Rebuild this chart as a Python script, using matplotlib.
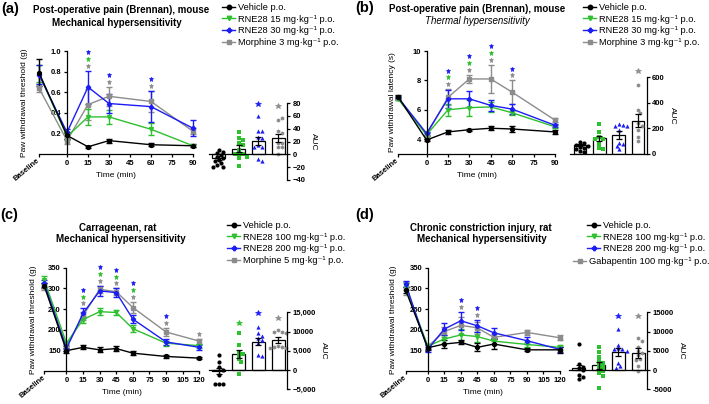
import matplotlib
matplotlib.use('Agg')
import matplotlib.pyplot as plt
from matplotlib.lines import Line2D
from matplotlib.transforms import ScaledTranslation

plt.rcParams['font.family'] = ['Liberation Sans', 'DejaVu Sans']
plt.rcParams['font.weight'] = 'bold'

W, H = 709, 404
BASE_X = -20          # where "Baseline" sits on the time axis

BLACK, GREEN, BLUE, GRAY = '#000000', '#2ec02e', '#1c1cf5', '#8c8c8c'

# ---------------- (a) post-op mechanical, mouse ----------------
a_times = [0, 15, 30, 60, 90]
a_veh = [0.79, 0.18, 0.07, 0.13, 0.09, 0.08]
a_veh_err = [0.13, 0.03, 0.01, 0.02, 0.015, 0.015]
a_low = [0.78, 0.17, 0.36, 0.36, 0.24, 0.08]
a_low_err = [0.08, 0.03, 0.08, 0.07, 0.06, 0.01]
a_high = [0.77, 0.21, 0.65, 0.49, 0.46, 0.25]
a_high_err = [0.09, 0.03, 0.16, 0.09, 0.15, 0.08]
a_ref = [0.64, 0.13, 0.48, 0.56, 0.51, 0.22]
a_ref_err = [0.04, 0.03, 0.15, 0.09, 0.10, 0.03]
a_sig_ref = [15, 30, 60]
a_sig_low = [15]
a_sig_high = [15, 30, 60]
a_labels = ['Vehicle p.o.', 'RNE28 15 mg·kg⁻¹ p.o.', 'RNE28 30 mg·kg⁻¹ p.o.',
            'Morphine 3 mg·kg⁻¹ p.o.']
a_auc_veh = [7, 4, 2, -1, -4, -6, -9, -11, -14, -17, -19, -20]
a_auc_low = [35, 26, 22, 18, 14, 7, 1, 0, 0, -4, -6, -18]
a_auc_high = [59, 37, 36, 27, 26, 15, 12, 12, -8, -10]
a_auc_ref = [53, 56, 36, 33, 18, 18, 11, 11, 0]
a_auc_mean = [-6, 9, 21, 26]
a_auc_sem = [3, 6, 6, 6]
a_auc_star = [None, None, 79, 75]

# ---------------- (b) post-op thermal, mouse ----------------
b_times = [0, 15, 30, 45, 60, 90]
b_veh = [6.9, 3.95, 4.5, 4.65, 4.75, 4.7, 4.5]
b_veh_err = [0.1, 0.1, 0.15, 0.08, 0.15, 0.18, 0.12]
b_low = [6.75, 4.3, 6.0, 6.15, 6.2, 5.8, 4.85]
b_low_err = [0.1, 0.1, 0.4, 0.55, 0.35, 0.15, 0.1]
b_high = [6.85, 4.4, 6.75, 6.75, 6.3, 6.05, 4.95]
b_high_err = [0.1, 0.1, 0.6, 0.55, 0.35, 0.35, 0.1]
b_ref = [6.8, 4.3, 6.85, 8.1, 8.1, 7.2, 5.3]
b_ref_err = [0.1, 0.1, 0.55, 0.3, 0.95, 0.8, 0.15]
b_sig_ref = [15, 30, 45, 60]
b_sig_low = [15, 30, 45]
b_sig_high = [15, 30, 45, 60]
b_labels = a_labels
b_auc_veh = [90, 82, 72, 65, 58, 50, 40, 25, 12]
b_auc_low = [232, 175, 135, 120, 115, 78, 45, 42]
b_auc_high = [232, 225, 220, 215, 190, 85, 80, 60, 38]
b_auc_ref = [540, 345, 320, 240, 220, 190, 130, 100]
b_auc_mean = [70, 122, 148, 258]
b_auc_sem = [10, 20, 30, 50]
b_auc_star = [None, None, None, 645]

# ---------------- (c) carrageenan, rat ----------------
c_times = [0, 15, 30, 45, 60, 90, 120]
c_veh = [306, 150, 158, 152, 155, 144, 136, 132]
c_veh_err = [6, 6, 5, 6, 7, 5, 4, 3]
c_low = [320, 168, 225, 244, 242, 203, 168, 162]
c_low_err = [10, 5, 8, 8, 6, 8, 6, 5]
c_high = [312, 155, 240, 294, 290, 226, 171, 158]
c_high_err = [8, 6, 12, 12, 10, 10, 8, 6]
c_ref = [305, 160, 234, 298, 292, 254, 195, 173]
c_ref_err = [8, 6, 10, 8, 8, 14, 10, 6]
c_sig_ref = [15, 30, 45, 60, 90, 120]
c_sig_low = [15, 30, 45, 60]
c_sig_high = [15, 30, 45, 60, 90]
c_labels = ['Vehicle p.o.', 'RNE28 100 mg·kg⁻¹ p.o.', 'RNE28 200 mg·kg⁻¹ p.o.',
            'Morphine 5 mg·kg⁻¹ p.o.']
c_auc_veh = [3900, 2200, 700, 0, -1300, -3600, -3600, -3700]
c_auc_low = [9700, 6500, 4800, 4100, 3900, 3000, 2200, -900]
c_auc_high = [11200, 9500, 8900, 8400, 7800, 7000, 3900, 3600]
c_auc_ref = [10300, 10000, 9800, 9500, 6200, 6000, 6000, 5800, 5600]
c_auc_mean = [-200, 4100, 7400, 7700]
c_auc_sem = [800, 1000, 900, 800]
c_auc_star = [None, 12100, 14700, 13600]

# ---------------- (d) CCI, rat ----------------
d_times = c_times
d_veh = [296, 157, 166, 170, 158, 166, 152, 152]
d_veh_err = [8, 6, 10, 5, 10, 12, 4, 8]
d_low = [304, 161, 178, 188, 184, 173, 165, 158]
d_low_err = [8, 6, 10, 15, 12, 8, 6, 6]
d_high = [311, 153, 202, 222, 210, 193, 174, 153]
d_high_err = [8, 6, 14, 22, 14, 12, 8, 6]
d_ref = [300, 160, 196, 211, 205, 182, 194, 181]
d_ref_err = [15, 6, 12, 20, 15, 8, 6, 6]
d_sig_ref = [30, 45]
d_sig_low = []
d_sig_high = [30, 45]
d_labels = ['Vehicle p.o.', 'RNE28 100 mg·kg⁻¹ p.o.', 'RNE28 200 mg·kg⁻¹ p.o.',
            'Gabapentin 100 mg·kg⁻¹ p.o.']
d_auc_veh = [6700, 1500, 900, 500, 0, -1300, -1700, -2300]
d_auc_low = [6000, 4800, 3500, 2500, 1800, 1200, 800, 300, -200, -800, -1500, -4600]
d_auc_high = [10700, 6600, 5700, 5400, 5400, 5000, 1900, 1050, 600]
d_auc_ref = [8200, 7500, 6000, 5000, 4500, 3800, 3000, 2500, 1000, -200]
d_auc_mean = [600, 1200, 4600, 4400]
d_auc_sem = [700, 900, 1000, 1300]
d_auc_star = [None, None, 14000, 14000]

LINE_MARKERS = ['o', 'v', 'P', 's']
AUC_MARKERS = ['o', 's', '^', 'h']
COLORS = [BLACK, GREEN, BLUE, GRAY]

fig = plt.figure(figsize=(W / 100, H / 100), dpi=100)


def px_rect(left, top, right, bottom):
    return [left / W, 1 - bottom / H, (right - left) / W, (bottom - top) / H]


def line_panel(rect, times, means, errs, sigs, ylim, yticks, ytlabels,
               ylabel, ylabel_x):
    ax = fig.add_axes(rect)
    x = [BASE_X] + times
    # draw reference first, vehicle last (on top)
    for i in [3, 1, 2, 0]:
        eb = ax.errorbar(x, means[i], yerr=errs[i], color=COLORS[i],
                         marker=LINE_MARKERS[i], ms=2.8, lw=1.0,
                         elinewidth=1.0, capsize=2.0, capthick=1.0)
        eb.lines[0].set_clip_on(False)
        for art in list(eb.lines[1]) + list(eb.lines[2]):
            art.set_clip_on(False)
    ax.set_xlim(BASE_X, times[-1])
    ax.set_ylim(*ylim)
    ax.spines['top'].set_visible(False)
    ax.spines['right'].set_visible(False)
    ax.spines['left'].set_position(('data', 0))
    ax.spines['left'].set_linewidth(0.9)
    ax.spines['bottom'].set_linewidth(0.9)
    xt = [BASE_X] + list(range(0, times[-1] + 1, 15))
    ax.set_xticks(xt, ['Baseline'] + [str(t) for t in xt[1:]])
    ax.set_yticks(yticks, ytlabels)
    ax.tick_params(length=2.5, width=0.9, pad=1.5, labelsize=5.5)
    bl = ax.get_xticklabels()[0]
    bl.set_rotation(40)
    bl.set_rotation_mode('anchor')
    bl.set_ha('right')
    bl.set_va('center')
    ax.set_xlabel('Time (min)', fontsize=6)
    ax.xaxis.set_label_coords(0.5, -0.17)
    ax.set_ylabel(ylabel, fontsize=6)
    ax.yaxis.set_label_coords(ylabel_x, 0.5)

    # significance stars stacked above the highest error bar: gray, green, blue
    for t in times:
        k = x.index(t)
        top = max(m[k] + e[k] for m, e in zip(means, errs))
        n = 0
        for gi in [3, 1, 2]:
            if t in sigs[gi]:
                off = ScaledTranslation(0, (5 + 6.8 * n) / 100, fig.dpi_scale_trans)
                ax.plot(t, top, marker='*', ms=3.6, mew=0.5, color=COLORS[gi],
                        ls='none', transform=ax.transData + off, clip_on=False)
                n += 1
    return ax


def swarm_x(ax, xc, vals, d_px=3.4):
    to_px = ax.transData.transform
    x_per_px = 1.0 / (to_px((1, 0))[0] - to_px((0, 0))[0])
    cands = [0]
    for k in range(1, 12):
        cands += [k, -k]
    placed, out = [], []
    for v in vals:
        yp = to_px((xc, v))[1]
        for s in cands:
            dx = s * d_px * 0.6
            if all((dx - a) ** 2 + (yp - b) ** 2 >= d_px ** 2 for a, b in placed):
                break
        placed.append((dx, yp))
        out.append(xc + dx * x_per_px)
    return out


def auc_panel(rect, groups, mean, sem, stars, ylim, yticks, ytlabels, label_pad):
    ax = fig.add_axes(rect)
    ax.set_xlim(-0.5, 3.45)
    ax.set_ylim(*ylim)
    ax.bar(range(4), mean, width=0.66, color='white', edgecolor='black',
           linewidth=0.9, zorder=1)
    for i, vals in enumerate(groups):
        xs = swarm_x(ax, i, vals)
        ax.plot(xs, vals, ls='none', marker=AUC_MARKERS[i], ms=3.0, mew=0,
                color=COLORS[i], zorder=2, clip_on=False)
        if stars[i] is not None:
            ax.plot(i, stars[i], marker='*', ms=3.8, mew=0.5, color=COLORS[i],
                    zorder=2, clip_on=False)
    ax.errorbar(range(4), mean, yerr=sem, fmt='none', ecolor='black',
                elinewidth=0.9, capsize=2.0, capthick=0.9, zorder=3)
    for s in ['left', 'top']:
        ax.spines[s].set_visible(False)
    ax.spines['bottom'].set_position(('data', 0))
    ax.spines['bottom'].set_linewidth(0.9)
    ax.spines['right'].set_linewidth(0.9)
    ax.set_xticks([])
    ax.yaxis.tick_right()
    ax.set_yticks(yticks, ytlabels)
    ax.tick_params(axis='y', length=2.5, width=0.9, pad=1.5, labelsize=5.5)
    ax.yaxis.set_label_position('right')
    ax.set_ylabel('AUC', fontsize=6, rotation=270, labelpad=label_pad)
    return ax


def legend(handles_idx, labels, left_px, top_px):
    handles = [Line2D([], [], color=COLORS[i], marker=LINE_MARKERS[i], ms=3.2,
                      lw=1.0) for i in handles_idx]
    fig.legend(handles, labels, loc='upper left',
               bbox_to_anchor=(left_px / W, 1 - top_px / H),
               frameon=False, borderpad=0, borderaxespad=0,
               handlelength=1.4, handletextpad=0.3, labelspacing=0.28,
               prop={'size': 6.7, 'weight': 'normal'})


def title(cx, cy, text, **kw):
    fig.text(cx / W, 1 - cy / H, text, ha='center', va='center', fontsize=7, **kw)


def panel_label(x_px, top_px, text):
    fig.text(x_px / W, 1 - top_px / H, text, ha='left', va='top',
             fontsize=10.5, weight='bold')


# ---- (a) ----
line_panel(px_rect(39, 51, 193, 154), a_times,
           [a_veh, a_low, a_high, a_ref], [a_veh_err, a_low_err, a_high_err, a_ref_err],
           [[], a_sig_low, a_sig_high, a_sig_ref],
           (0, 1.0), [0.2, 0.4, 0.6, 0.8, 1.0], ['0.2', '0.4', '0.6', '0.8', '1.0'],
           'Paw withdrawal threshold (g)', -0.07)
auc_panel(px_rect(209, 103, 287, 180), [a_auc_veh, a_auc_low, a_auc_high, a_auc_ref],
          a_auc_mean, a_auc_sem, a_auc_star, (-40, 80),
          [-40, -20, 0, 20, 40, 60, 80], ['−40', '−20', '0', '20', '40', '60', '80'], 8)
panel_label(1, 2, '(a)')
title(121, 10, 'Post-operative pain (Brennan), mouse')
title(117, 23, 'Mechanical hypersensitivity')
legend([0, 1, 2, 3], a_labels, 222, 3)

# ---- (b) ----
line_panel(px_rect(398, 51, 555, 154), b_times,
           [b_veh, b_low, b_high, b_ref], [b_veh_err, b_low_err, b_high_err, b_ref_err],
           [[], b_sig_low, b_sig_high, b_sig_ref],
           (3, 10), [4, 6, 8, 10], ['4', '6', '8', '10'],
           'Paw withdrawal latency (s)', -0.015)
auc_panel(px_rect(570.4, 77, 646.6, 154), [b_auc_veh, b_auc_low, b_auc_high, b_auc_ref],
          b_auc_mean, b_auc_sem, b_auc_star, (0, 600),
          [0, 200, 400, 600], ['0', '200', '400', '600'], 8)
panel_label(355, 1, '(b)')
title(477, 9, 'Post-operative pain (Brennan), mouse')
title(477, 21, 'Thermal hypersensitivity', style='italic', weight='normal')
legend([0, 1, 2, 3], b_labels, 583, 3)

# ---- (c) ----
big_ticks = [-5000, 0, 5000, 10000, 15000]
line_panel(px_rect(44.3, 267.7, 199.3, 371.4), c_times,
           [c_veh, c_low, c_high, c_ref], [c_veh_err, c_low_err, c_high_err, c_ref_err],
           [[], c_sig_low, c_sig_high, c_sig_ref],
           (100, 350), [150, 200, 250, 300, 350], ['150', '200', '250', '300', '350'],
           'Paw withdrawal threshold (g)', -0.05)
auc_panel(px_rect(209, 312.3, 287, 389.3), [c_auc_veh, c_auc_low, c_auc_high, c_auc_ref],
          c_auc_mean, c_auc_sem, c_auc_star, (-5000, 15000),
          big_ticks, ['−5,000', '0', '5,000', '10000', '15,000'], 8)
panel_label(0, 208, '(c)')
title(118, 228, 'Carrageenan, rat')
title(121, 239, 'Mechanical hypersensitivity')
legend([0, 1, 2, 3], c_labels, 227, 221)

# ---- (d) ----
line_panel(px_rect(405.7, 267.7, 560, 371.4), d_times,
           [d_veh, d_low, d_high, d_ref], [d_veh_err, d_low_err, d_high_err, d_ref_err],
           [[], d_sig_low, d_sig_high, d_sig_ref],
           (100, 350), [150, 200, 250, 300, 350], ['150', '200', '250', '300', '350'],
           'Paw withdrawal threshold (g)', -0.055)
auc_panel(px_rect(569, 312.3, 647, 389.3), [d_auc_veh, d_auc_low, d_auc_high, d_auc_ref],
          d_auc_mean, d_auc_sem, d_auc_star, (-5000, 15000),
          big_ticks, ['-5000', '0', '5000', '10000', '15000'], 8)
panel_label(355, 208, '(d)')
title(481, 228, 'Chronic constriction injury, rat')
title(482, 239, 'Mechanical hypersensitivity')
legend([0, 1, 2], d_labels[:3], 587, 221)
legend([3], d_labels[3:], 573, 257.5)

fig.savefig('out.png', dpi=100)
